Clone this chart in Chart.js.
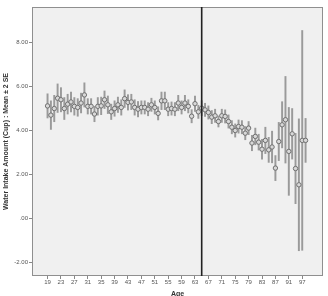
<!DOCTYPE html>
<html>
<head>
<meta charset="utf-8">
<script src="https://cdn.jsdelivr.net/npm/chart.js@4/dist/chart.umd.min.js"></script>
<style>
  body { margin: 0; background: #fff; }
  canvas { display: block; }
</style>
</head>
<body>
<canvas id="myChart" width="328" height="296"></canvas>
<script>
// categories (ages present in the data)
var ages = [19, 20, 21, 22, 23, 24, 25, 26, 27, 28, 29, 30, 31, 32, 33, 34, 35, 36, 37, 38,
  39, 40, 41, 42, 43, 44, 45, 46, 47, 48, 49, 50, 51, 52, 53, 54, 55, 56, 57, 58,
  59, 60, 61, 62, 63, 64, 65, 66, 67, 68, 69, 70, 71, 72, 73, 74, 75, 76, 77, 78,
  79, 80, 81, 82, 83, 84, 85, 86, 87, 88, 89, 90, 91, 92, 93, 95, 97, 98];

// mean water intake (cups)
var means = [5.12, 4.70, 5.00, 5.47, 5.40, 5.00, 5.20, 5.30, 5.10, 5.05, 5.25, 5.62, 5.10, 5.10, 4.75, 5.10, 5.12, 5.40, 5.17, 4.85,
  5.00, 5.17, 5.05, 5.45, 5.28, 5.30, 5.05, 4.97, 5.05, 5.05, 4.97, 5.17, 5.05, 4.78, 5.35, 5.35, 4.97, 5.00, 4.97, 5.25,
  5.05, 5.25, 5.10, 4.65, 5.22, 4.85, 5.02, 4.94, 4.82, 4.61, 4.67, 4.41, 4.67, 4.64, 4.41, 4.15, 4.00, 4.18, 4.15, 3.88,
  4.11, 3.43, 3.73, 3.47, 3.15, 3.55, 3.12, 3.25, 2.29, 3.50, 4.26, 4.49, 3.05, 3.85, 2.27, 1.53, 3.55, 3.55];

// 2 x standard error
var twoSE = [0.55, 0.65, 0.60, 0.65, 0.55, 0.50, 0.45, 0.45, 0.40, 0.40, 0.45, 0.55, 0.35, 0.35, 0.35, 0.40, 0.40, 0.40, 0.40, 0.35,
  0.35, 0.35, 0.35, 0.40, 0.35, 0.35, 0.35, 0.35, 0.30, 0.30, 0.30, 0.30, 0.30, 0.30, 0.40, 0.40, 0.30, 0.30, 0.30, 0.35,
  0.30, 0.35, 0.30, 0.30, 0.35, 0.30, 0.34, 0.30, 0.30, 0.30, 0.30, 0.25, 0.30, 0.30, 0.30, 0.30, 0.30, 0.30, 0.30, 0.30,
  0.30, 0.35, 0.38, 0.36, 0.45, 0.60, 0.57, 0.72, 0.57, 0.87, 1.05, 1.97, 2.00, 1.15, 1.60, 3.00, 5.00, 1.00];

var tickAges = [19, 23, 27, 31, 35, 39, 43, 47, 51, 55, 59, 63, 67, 71, 75, 79, 83, 87, 91, 97];
var yTicks = [-2, 0, 2, 4, 6, 8];
var cutAge = 65;

var yMin = -2.62, yMax = 9.62;

var plotFrame = {
  id: 'plotFrame',
  beforeDraw: function(chart) {
    var c = chart.ctx, a = chart.chartArea;
    c.save();
    c.fillStyle = '#f0f0f0';
    c.fillRect(a.left, a.top, a.right - a.left, a.bottom - a.top);
    c.strokeStyle = '#8f8f8f';
    c.lineWidth = 1;
    c.strokeRect(a.left + 0.5, a.top + 0.5, a.right - a.left - 1, a.bottom - a.top - 1);
    c.restore();
  }
};

var cutIdx = ages.indexOf(cutAge);

var ctx = document.getElementById('myChart').getContext('2d');
var chart = new Chart(ctx, {
  type: 'scatter',
  data: {
    datasets: [
      {
        type: 'line',
        data: [{ x: cutIdx, y: yMin }, { x: cutIdx, y: yMax }],
        borderColor: '#222',
        borderWidth: 1.6,
        pointRadius: 0,
        order: 0
      },
      {
        type: 'scatter',
        data: ages.map(function(a, i) { return { x: i, y: means[i] }; }),
        pointRadius: 2.2,
        pointBackgroundColor: '#d8d8d8',
        pointBorderColor: '#707070',
        pointBorderWidth: 1,
        order: 1
      },
      {
        type: 'bar',
        data: ages.map(function(a, i) { return { x: i, y: [means[i] - twoSE[i], means[i] + twoSE[i]] }; }),
        backgroundColor: '#9a9a9a',
        barThickness: 1.3,
        grouped: false,
        order: 2
      }
    ]
  },
  options: {
    responsive: false,
    animation: false,
    devicePixelRatio: 1,
    layout: { padding: { top: 7, right: 2, left: 0, bottom: 0 } },
    plugins: { legend: { display: false }, tooltip: { enabled: false } },
    scales: {
      x: {
        type: 'linear',
        min: -4.64,
        max: 82.2,
        offset: false,
        afterBuildTicks: function(s) {
          s.ticks = tickAges.map(function(a) { return { value: ages.indexOf(a) }; });
        },
        afterFit: function(s) { s.height = 20; },
        ticks: {
          autoSkip: false,
          maxRotation: 0,
          padding: 0,
          color: '#555',
          font: { family: 'Liberation Sans', size: 6 },
          callback: function(v) { return ages[v]; }
        },
        grid: { drawOnChartArea: false, tickLength: 3, color: '#888', offset: false },
        border: { display: false },
        title: {
          display: true,
          text: 'Age',
          color: '#333',
          padding: { top: 0, bottom: -2 },
          font: { family: 'Liberation Sans', size: 7, weight: 'bold' }
        }
      },
      y: {
        min: yMin,
        max: yMax,
        afterBuildTicks: function(s) {
          s.ticks = yTicks.map(function(v) { return { value: v }; });
        },
        afterFit: function(s) { s.width = 32; },
        ticks: {
          padding: 1,
          color: '#555',
          font: { family: 'Liberation Sans', size: 6 },
          callback: function(v) { return v === 0 ? '.00' : v.toFixed(2); }
        },
        grid: { drawOnChartArea: false, tickLength: 3, color: '#888' },
        border: { display: false },
        title: {
          display: true,
          text: 'Water Intake Amount (Cup) : Mean \u00b1 2 SE',
          color: '#333',
          padding: 2,
          font: { family: 'Liberation Sans', size: 7, weight: 'bold' }
        }
      }
    }
  },
  plugins: [plotFrame]
});
</script>
</body>
</html>
